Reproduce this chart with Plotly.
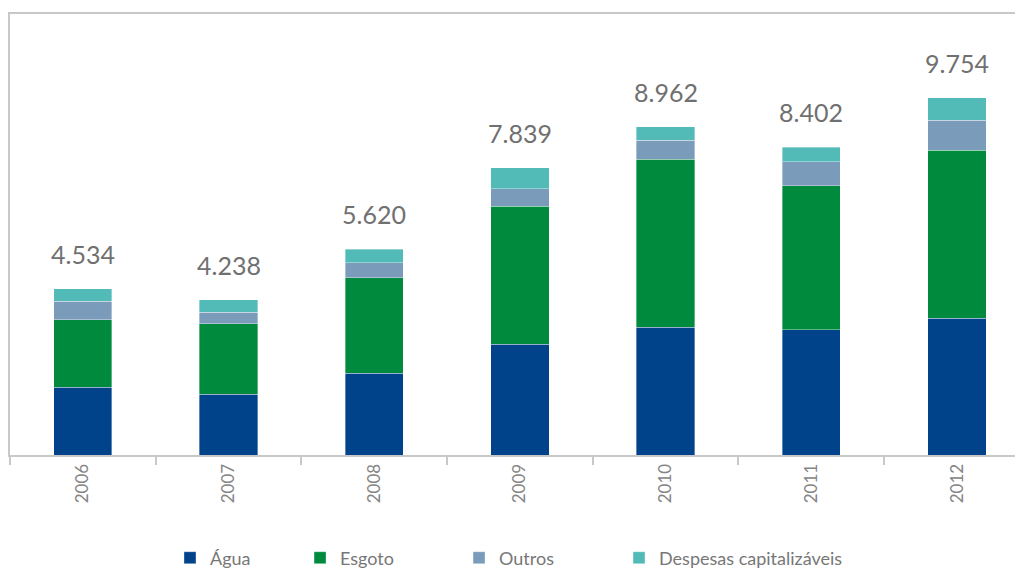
import plotly.graph_objects as go

anos = ["2006", "2007", "2008", "2009", "2010", "2011", "2012"]
agua = [1849, 1665, 2229, 3018, 3482, 3418, 3736]
esgoto = [1847, 1918, 2608, 3774, 4589, 3928, 4581]
outros = [502, 311, 409, 474, 526, 666, 818]
despesas = [336, 344, 374, 573, 365, 390, 619]
totais = [4534, 4238, 5620, 7839, 8962, 8402, 9754]
rotulos = ["4.534", "4.238", "5.620", "7.839", "8.962", "8.402", "9.754"]

series = [
    ("Água", agua, "#00438A"),
    ("Esgoto", esgoto, "#008A3E"),
    ("Outros", outros, "#7A9CBA"),
    ("Despesas capitalizáveis", despesas, "#52BBB7"),
]
legend_ids = ["legend", "legend2", "legend3", "legend4"]
legend_x = [0.1592, 0.2886, 0.4468, 0.6060]

fig = go.Figure()
for (nome, vals, cor), lid in zip(series, legend_ids):
    fig.add_trace(go.Bar(
        x=anos, y=vals, name=nome, width=0.4, legend=lid,
        marker=dict(color=cor, line=dict(color="rgba(255,255,255,0.6)", width=0.6)),
        hoverinfo="skip",
    ))

for i, (tot, rot) in enumerate(zip(totais, rotulos)):
    fig.add_annotation(x=i, y=tot, xref="x", yref="y", text=rot, showarrow=False,
                       yanchor="bottom", yshift=18,
                       font=dict(family="Lato", size=25, color="#707070"))

leg_common = dict(orientation="h", xanchor="left", y=-0.2336, yanchor="middle",
                  font=dict(family="Lato", size=18, color="#777777"),
                  bgcolor="rgba(0,0,0,0)", itemclick=False, itemdoubleclick=False)
legends = {lid: dict(x=lx, **leg_common) for lid, lx in zip(legend_ids, legend_x)}

fig.update_layout(
    barmode="stack",
    width=1015, height=569,
    margin=dict(l=10, r=0, t=14, b=114, autoexpand=False),
    paper_bgcolor="white", plot_bgcolor="white",
    font=dict(family="Lato", color="#707070"),
    showlegend=True,
    xaxis=dict(
        type="category", range=[-0.5, 6.398],
        showline=True, linecolor="#c8c8c8", linewidth=2, mirror=True,
        ticks="outside", tickson="boundaries", ticklen=8, tickcolor="#c8c8c8", tickwidth=2,
        tickangle=-90, tickfont=dict(family="Lato", size=17, color="#858585"),
        showgrid=False, zeroline=False,
    ),
    yaxis=dict(
        range=[0, 12040], showline=True, linecolor="#c8c8c8", linewidth=2,
        showticklabels=False, ticks="", showgrid=False, zeroline=False,
    ),
    **legends,
)

fig.write_html("out.html")
